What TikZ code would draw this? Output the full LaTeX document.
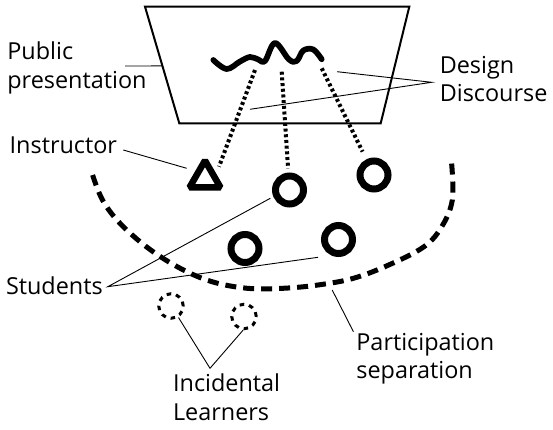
\documentclass[tikz,border=0pt]{standalone}
\usepackage{fontspec}
\setmainfont{Open Sans}
\usetikzlibrary{shapes.geometric,calc}
\begin{document}
\begin{tikzpicture}[x=1pt,y=-1pt,
  label text/.style={anchor=base west, inner sep=0pt, font=\fontsize{23.4}{28.3}\selectfont},
  leader/.style={line width=0.9pt},
  student/.style={circle, draw, line width=7pt, minimum size=28pt, inner sep=0pt},
  learner/.style={circle, draw, line width=3pt, dash pattern=on 4.5pt off 5pt, minimum size=24.5pt, inner sep=0pt},
  tutor/.style={regular polygon, regular polygon sides=3, draw, line width=6.5pt, line join=bevel, minimum size=35.8pt, inner sep=0pt},
  discourse link/.style={line width=4pt, dash pattern=on 3pt off 2.7pt},
  boundary/.style={line width=5pt, dash pattern=on 11pt off 7pt},
  screen/.style={line width=2pt, line join=miter},
  topic/.style={line width=5.7pt, line cap=round, line join=round}]

\fill[white] (0,0) rectangle (553,430);
\useasboundingbox (0,0) rectangle (553,430);

% projection screen
\coordinate (tl) at (145,6.7);
\coordinate (tr) at (409.3,6.7);
\coordinate (br) at (380.7,123.3);
\coordinate (bl) at (179.3,123.3);
\draw[screen] (tl) -- (tr) -- (br) -- (bl) -- cycle;

% the topic under discussion
\draw[topic] plot[smooth, tension=0.6] coordinates {(213.3,60) (226.7,69) (240,61.5) (250,57) (258.3,59.5) (265,61) (275,43) (289,59.5) (296.7,61) (303.3,50.5) (313.3,49.5) (321.7,59.3)};
\coordinate (s1) at (255,70);
\coordinate (s2) at (281.7,71.7);
\coordinate (s3) at (321.7,68.3);

% participants
\node[tutor] (tutor) at (205,178.5) {};
\node[student] (c1) at (289.5,190) {};
\node[student] (c2) at (374,175) {};
\node[student] (c3) at (245,248.5) {};
\node[student] (c4) at (338.5,239.5) {};
\node[learner] (l1) at (171,306) {};
\node[learner] (l2) at (244,316.5) {};

% links to the topic
\draw[discourse link] (s1) -- ($(tutor)+(14,-11.8)$);
\draw[discourse link, shorten >=4pt] (s2) -- (c1);
\draw[discourse link, shorten >=8.5pt] (s3) -- (c2);

% boundary of participation
\draw[boundary] plot[smooth, tension=0.6] coordinates {(92.6,175) (102.5,200) (120,223.3) (148.4,248.3) (180.2,268.3) (212,281.7) (247.3,288.3) (282.7,288.3) (318,285) (353.4,278.3) (388.7,265) (424,246.7) (441.7,226.7) (452.3,200) (451.6,163.3)};
\coordinate (bd) at (332.2,290);

% labels
\node[label text] (pub1) at (7.2,60) {Public};
\node[label text] (pub2) at (7.2,88.5) {presentation};
\node[label text] (ins) at (9.5,154) {Instructor};
\node[label text] (des1) at (439.6,73.3) {Design};
\node[label text] (des2) at (439.6,101.7) {Discourse};
\node[label text] (stu) at (5.8,294) {Students};
\node[label text] (par1) at (356.2,350) {Participation};
\node[label text] (par2) at (356.2,378.3) {separation};
\node[label text] (inc1) at (172.9,391.7) {Incidental};
\node[label text] (inc2) at (172.9,420) {Learners};

% leader lines
\coordinate (pubend) at (125,66);
\draw[leader] (pubend) -- ($(tl)!0.508!(bl)$);
\coordinate (insend) at (123.3,150);
\draw[leader] (insend) -- ($(tutor)+(-18.3,-10.2)$);
\coordinate (desapex) at (431.7,82.3);
\coordinate (dd1) at (337,71.7);
\coordinate (dd2) at (250,109.3);
\draw[leader] (dd1) -- (desapex) -- (dd2);
\coordinate (stuapex) at (107.8,286.7);
\draw[leader] ($(c1)+(-19.2,8.3)$) -- (stuapex) -- ($(c4)+(-20.5,17.8)$);
\coordinate (parend) at (353.4,331.7);
\draw[leader] (bd) -- (parend);
\coordinate (incapex) at (210,368.3);
\draw[leader] (l1.-57) -- (incapex) -- (l2.-94);
\end{tikzpicture}
\end{document}
